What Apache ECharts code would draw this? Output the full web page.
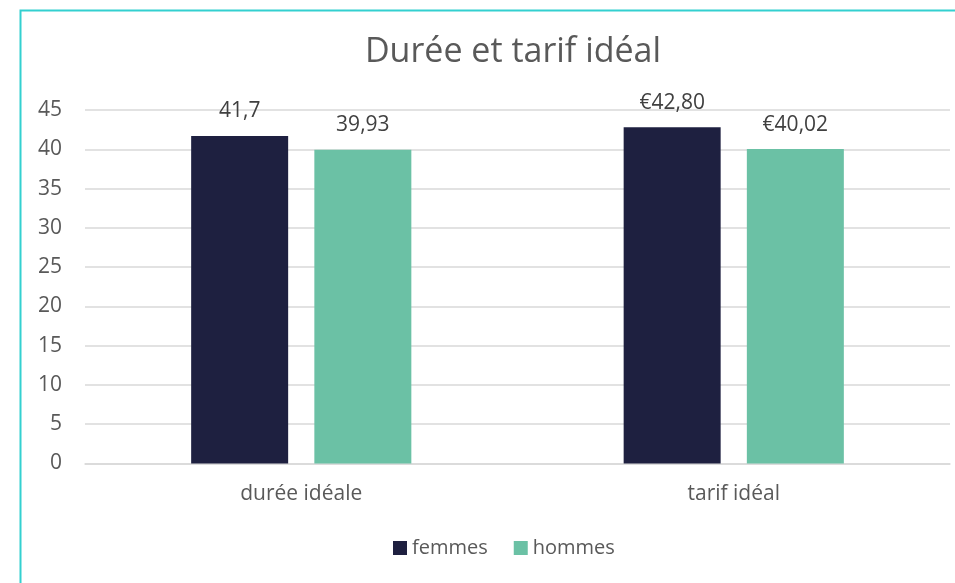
<!DOCTYPE html>
<html>
<head>
<meta charset="utf-8">
<script src="https://cdn.jsdelivr.net/npm/echarts@6/dist/echarts.min.js"></script>
<style>
  html, body { margin: 0; padding: 0; background: #fff; }
  #chart { width: 955px; height: 583px; }
</style>
</head>
<body>
<div id="chart"></div>
<script>
// data
var categories = ['durée idéale', 'tarif idéal'];
var femmes = [41.7, 42.8];
var hommes = [39.93, 40.02];
var femmesLabels = ['41,7', '€42,80'];
var hommesLabels = ['39,93', '€40,02'];
var yTicks = { min: 0, max: 45, interval: 5 };

var font = '"Open Sans", "Noto Sans", sans-serif';
var chart = echarts.init(document.getElementById('chart'));

var option = {
	animation: false,
	backgroundColor: '#fff',
	textStyle: { fontFamily: font },
	graphic: [{
		type: 'rect',
		shape: { x: 20.5, y: 10.5, width: 960, height: 600 },
		style: { fill: 'none', stroke: '#33d0d0', lineWidth: 2 },
		silent: true
	}],
	title: {
		text: 'Durée et tarif idéal',
		left: 508, top: 30, textAlign: 'center',
		textStyle: { fontFamily: font, fontSize: 34, fontWeight: 'normal', color: '#595959' }
	},
	legend: {
		data: ['femmes', 'hommes'],
		left: 393, top: 538, padding: 0,
		itemWidth: 14, itemHeight: 14, itemGap: 26,
		icon: 'rect',
		textStyle: { fontFamily: font, fontSize: 20, color: '#595959' }
	},
	grid: { left: 85, right: 5, top: 110, bottom: 583 - 463.5 },
	xAxis: {
		type: 'category',
		data: categories,
		axisLine: { lineStyle: { color: '#d9d9d9', width: 1.5 } },
		axisTick: { show: false },
		axisLabel: { fontFamily: font, fontSize: 21, color: '#595959', margin: 20 }
	},
	yAxis: {
		type: 'value',
		min: yTicks.min, max: yTicks.max, interval: yTicks.interval,
		axisLine: { show: false },
		axisTick: { show: false },
		splitLine: { lineStyle: { color: '#d9d9d9', width: 1.5 } },
		axisLabel: { fontFamily: font, fontSize: 21, color: '#595959', margin: 23 }
	},
	series: [
		{
			name: 'femmes', type: 'bar', data: femmes,
			barWidth: 97, barGap: '27%',
			itemStyle: { color: '#1e2040' },
			label: {
				show: true, position: 'top', distance: 14,
				fontFamily: font, fontSize: 21, color: '#404040',
				formatter: function (p) { return femmesLabels[p.dataIndex]; }
			}
		},
		{
			name: 'hommes', type: 'bar', data: hommes,
			barWidth: 97,
			itemStyle: { color: '#6bc1a5' },
			label: {
				show: true, position: 'top', distance: 14,
				fontFamily: font, fontSize: 21, color: '#404040',
				formatter: function (p) { return hommesLabels[p.dataIndex]; }
			}
		}
	]
};
chart.setOption(option);
</script>
</body>
</html>
